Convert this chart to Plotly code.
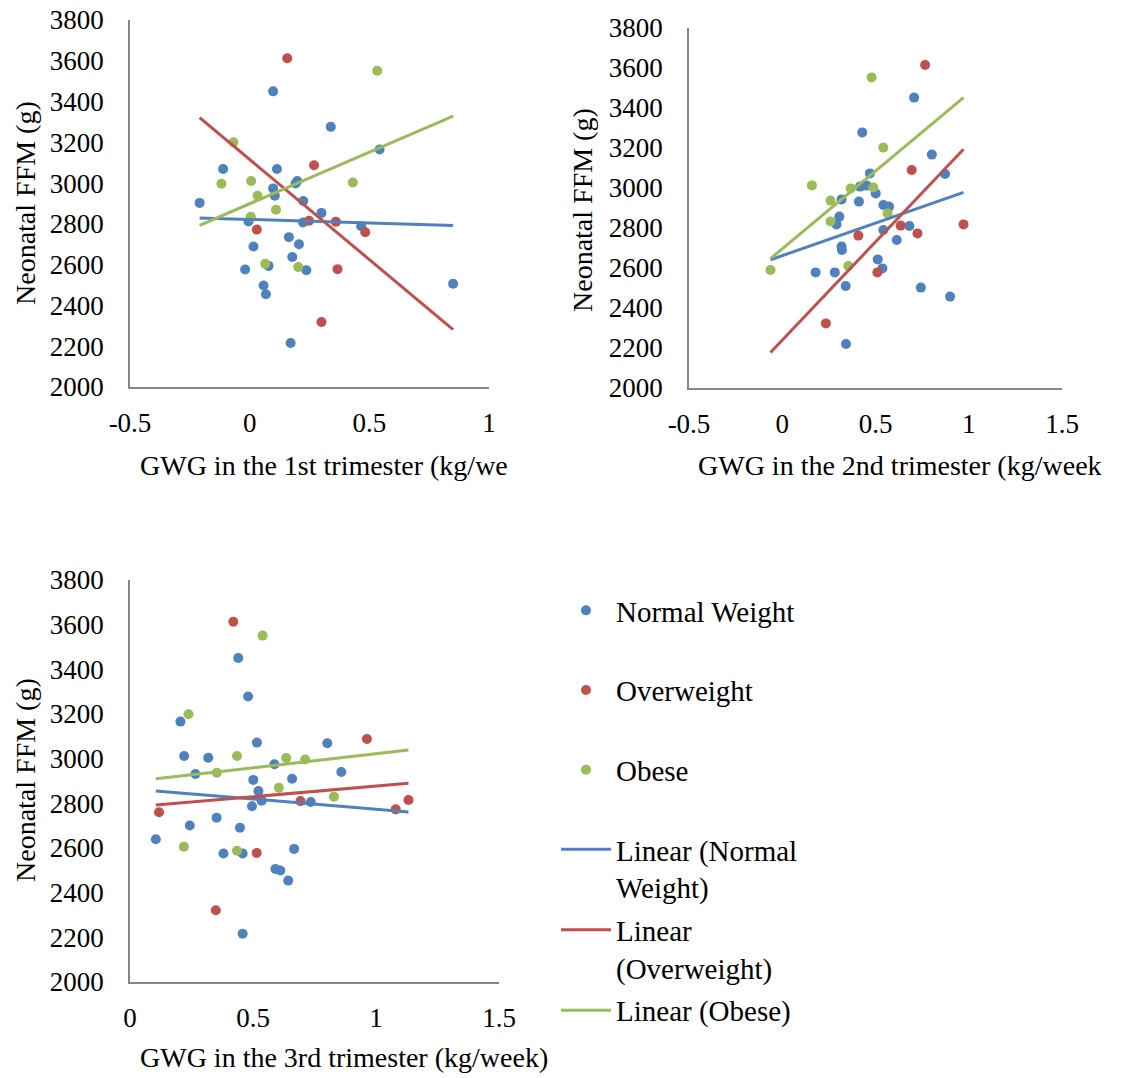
import numpy as np
import plotly.graph_objects as go

W, H = 1121, 1078
BLUE = '#4F81BD'
RED = '#C0504D'
GREEN = '#9BBB59'
AXIS = '#868686'
FONT = 'Liberation Serif'

group_names = ['Normal Weight', 'Overweight', 'Obese']
fit_names = ['Linear (Normal<br>Weight)', 'Linear<br>(Overweight)', 'Linear (Obese)']
colors = [BLUE, RED, GREEN]

# ---------- Panel 1: GWG in the 1st trimester ----------
p1_nw_x = [0.098, 0.339, 0.543, -0.111, 0.114, -0.209, 0.098, 0.105, 0.199, 0.192, 0.224, 0.300, 0.223,
           -0.005, 0.466, 0.164, 0.206, 0.016, 0.178, 0.079, -0.019, 0.237, 0.058, 0.068, 0.171, 0.850]
p1_nw_y = [3450, 3276, 3165, 3069, 3069, 2903, 2974, 2938, 3010, 2998, 2912, 2854, 2807,
           2812, 2789, 2735, 2700, 2689, 2638, 2594, 2576, 2573, 2498, 2455, 2216, 2506]
p1_ow_x = [0.157, 0.269, 0.030, 0.248, 0.360, 0.483, 0.367, 0.300]
p1_ow_y = [3612, 3088, 2772, 2815, 2810, 2759, 2578, 2319]
p1_ob_x = [0.533, -0.068, -0.118, 0.006, 0.033, 0.110, 0.431, 0.005, 0.065, 0.203]
p1_ob_y = [3551, 3200, 2997, 3010, 2938, 2869, 3003, 2835, 2604, 2588]

# ---------- Panel 2: GWG in the 2nd trimester ----------
p2_nw_x = [0.707, 0.429, 0.802, 0.873, 0.470, 0.417, 0.453, 0.501, 0.318, 0.411, 0.542, 0.573, 0.306, 0.291,
           0.682, 0.542, 0.614, 0.318, 0.320, 0.512, 0.537, 0.179, 0.282, 0.340, 0.743, 0.900, 0.342]
p2_nw_y = [3452, 3278, 3167, 3070, 3073, 3007, 3012, 2973, 2943, 2932, 2915, 2907, 2857, 2818,
           2810, 2790, 2740, 2707, 2690, 2643, 2598, 2578, 2578, 2510, 2502, 2457, 2220]
p2_ow_x = [0.766, 0.694, 0.408, 0.635, 0.725, 0.972, 0.510, 0.234]
p2_ow_y = [3615, 3090, 2762, 2812, 2773, 2818, 2578, 2323]
p2_ob_x = [0.479, 0.542, 0.159, 0.367, 0.488, 0.259, 0.565, 0.259, 0.354, -0.063]
p2_ob_y = [3553, 3202, 3013, 2998, 3003, 2937, 2873, 2833, 2610, 2590]

# ---------- Panel 3: GWG in the 3rd trimester ----------
p3_nw_x = [0.440, 0.480, 0.205, 0.516, 0.802, 0.220, 0.318, 0.587, 0.266, 0.859, 0.501, 0.659, 0.522, 0.535,
           0.496, 0.735, 0.352, 0.243, 0.447, 0.105, 0.380, 0.458, 0.667, 0.591, 0.611, 0.643, 0.458]
p3_nw_y = [3451, 3278, 3166, 3072, 3069, 3012, 3004, 2975, 2931, 2940, 2905, 2910, 2855, 2812,
           2787, 2806, 2736, 2701, 2691, 2639, 2575, 2575, 2596, 2506, 2499, 2454, 2216]
p3_ow_x = [0.420, 0.963, 0.118, 0.693, 1.080, 1.132, 0.515, 0.349]
p3_ow_y = [3613, 3088, 2760, 2810, 2773, 2815, 2578, 2321]
p3_ob_x = [0.539, 0.238, 0.435, 0.353, 0.635, 0.712, 0.605, 0.829, 0.219, 0.435]
p3_ob_y = [3551, 3199, 3012, 2937, 3003, 2996, 2870, 2830, 2606, 2588]

# axis ticks
y_ticks = [2000, 2200, 2400, 2600, 2800, 3000, 3200, 3400, 3600, 3800]
p1_xticks = [-0.5, 0, 0.5, 1]
p1_xlabels = ['-0.5', '0', '0.5', '1']
p2_xticks = [-0.5, 0, 0.5, 1, 1.5]
p2_xlabels = ['-0.5', '0', '0.5', '1', '1.5']
p3_xticks = [0, 0.5, 1, 1.5]
p3_xlabels = ['0', '0.5', '1', '1.5']

y_title = 'Neonatal FFM (g)'
p1_xtitle = 'GWG in the 1st trimester (kg/we'
p2_xtitle = 'GWG in the 2nd trimester (kg/week'
p3_xtitle = 'GWG in the 3rd trimester (kg/week)'


def px(X):
    return X / W


def py(Y):
    return 1 - Y / H


panels = [
    dict(xs=[p1_nw_x, p1_ow_x, p1_ob_x], ys=[p1_nw_y, p1_ow_y, p1_ob_y], xa='x', ya='y',
         xdom=[px(130), px(489)], ydom=[py(387), py(20)], xrange=[-0.5, 1],
         xt=p1_xticks, xl=p1_xlabels),
    dict(xs=[p2_nw_x, p2_ow_x, p2_ob_x], ys=[p2_nw_y, p2_ow_y, p2_ob_y], xa='x2', ya='y2',
         xdom=[px(689), px(1062)], ydom=[py(388), py(28)], xrange=[-0.5, 1.5],
         xt=p2_xticks, xl=p2_xlabels),
    dict(xs=[p3_nw_x, p3_ow_x, p3_ob_x], ys=[p3_nw_y, p3_ow_y, p3_ob_y], xa='x3', ya='y3',
         xdom=[px(130), px(499)], ydom=[py(982), py(580)], xrange=[0, 1.5],
         xt=p3_xticks, xl=p3_xlabels),
]

fig = go.Figure()

for pi, p in enumerate(panels):
    allx = [v for xs in p['xs'] for v in xs]
    xmin, xmax = min(allx), max(allx)
    # scatter points
    for gi in range(3):
        fig.add_trace(go.Scatter(
            x=p['xs'][gi], y=p['ys'][gi], mode='markers', name=group_names[gi],
            marker=dict(color=colors[gi], size=10, line=dict(width=0)),
            xaxis=p['xa'], yaxis=p['ya'], showlegend=(pi == 0),
            legend='legend', legendgroup='g%d' % gi))
    # linear trendlines
    for gi in range(3):
        slope, icpt = np.polyfit(p['xs'][gi], p['ys'][gi], 1)
        lx = [xmin, xmax]
        ly = [icpt + slope * xmin, icpt + slope * xmax]
        fig.add_trace(go.Scatter(
            x=lx, y=ly, mode='lines', name=fit_names[gi],
            line=dict(color=colors[gi], width=3),
            xaxis=p['xa'], yaxis=p['ya'], showlegend=(pi == 0),
            legend='legend2', legendgroup='f%d' % gi))

axis_font = dict(family=FONT, size=27, color='black')
layout = dict(
    width=W, height=H, autosize=False,
    margin=dict(l=0, r=0, t=0, b=0, pad=0, autoexpand=False),
    paper_bgcolor='white', plot_bgcolor='white',
    font=dict(family=FONT, color='black'),
    legend=dict(x=px(556), y=py(585), xanchor='left', yanchor='top',
                font=dict(family=FONT, size=29, color='black'),
                itemwidth=50, tracegroupgap=39, traceorder='grouped',
                bgcolor='rgba(0,0,0,0)'),
    legend2=dict(x=px(556), y=py(824), xanchor='left', yanchor='top',
                 font=dict(family=FONT, size=29, color='black'),
                 itemwidth=50, tracegroupgap=2, traceorder='grouped', valign='top',
                 bgcolor='rgba(0,0,0,0)'),
)

for i, p in enumerate(panels):
    suffix = '' if i == 0 else str(i + 1)
    layout['xaxis' + suffix] = dict(
        domain=p['xdom'], range=p['xrange'], anchor=p['ya'], automargin=False,
        tickmode='array', tickvals=p['xt'], ticktext=p['xl'], ticklabeloverflow='allow',
        showline=True, linecolor=AXIS, linewidth=1.5, showgrid=False, zeroline=False,
        ticks='', ticklabelstandoff=11, tickfont=axis_font, fixedrange=True)
    layout['yaxis' + suffix] = dict(
        domain=p['ydom'], range=[2000, 3800], anchor=p['xa'], automargin=False,
        tickmode='array', tickvals=y_ticks, ticklabeloverflow='allow',
        showline=True, linecolor=AXIS, linewidth=1.5, showgrid=False, zeroline=False,
        ticks='', ticklabelstandoff=19, tickfont=axis_font, fixedrange=True)

fig.update_layout(**layout)

title_font = dict(family=FONT, size=28, color='black')
annos = [
    dict(text=y_title, x=px(25), y=py(203), textangle=-90),
    dict(text=y_title, x=px(583), y=py(210), textangle=-90),
    dict(text=y_title, x=px(25), y=py(780), textangle=-90),
]
for a in annos:
    fig.add_annotation(xref='paper', yref='paper', showarrow=False, font=title_font,
                       xanchor='center', yanchor='middle', **a)
fig.add_annotation(text=p1_xtitle, xref='paper', yref='paper', x=px(138), y=py(465),
                   xanchor='left', yanchor='middle', showarrow=False, font=title_font)
fig.add_annotation(text=p2_xtitle, xref='paper', yref='paper', x=px(696), y=py(465),
                   xanchor='left', yanchor='middle', showarrow=False, font=title_font)
fig.add_annotation(text=p3_xtitle, xref='paper', yref='paper', x=px(138), y=py(1057),
                   xanchor='left', yanchor='middle', showarrow=False, font=title_font)

fig.write_html('out.html', config={'displayModeBar': False},
               post_script="document.body.style.margin='0';document.body.style.padding='0';")
